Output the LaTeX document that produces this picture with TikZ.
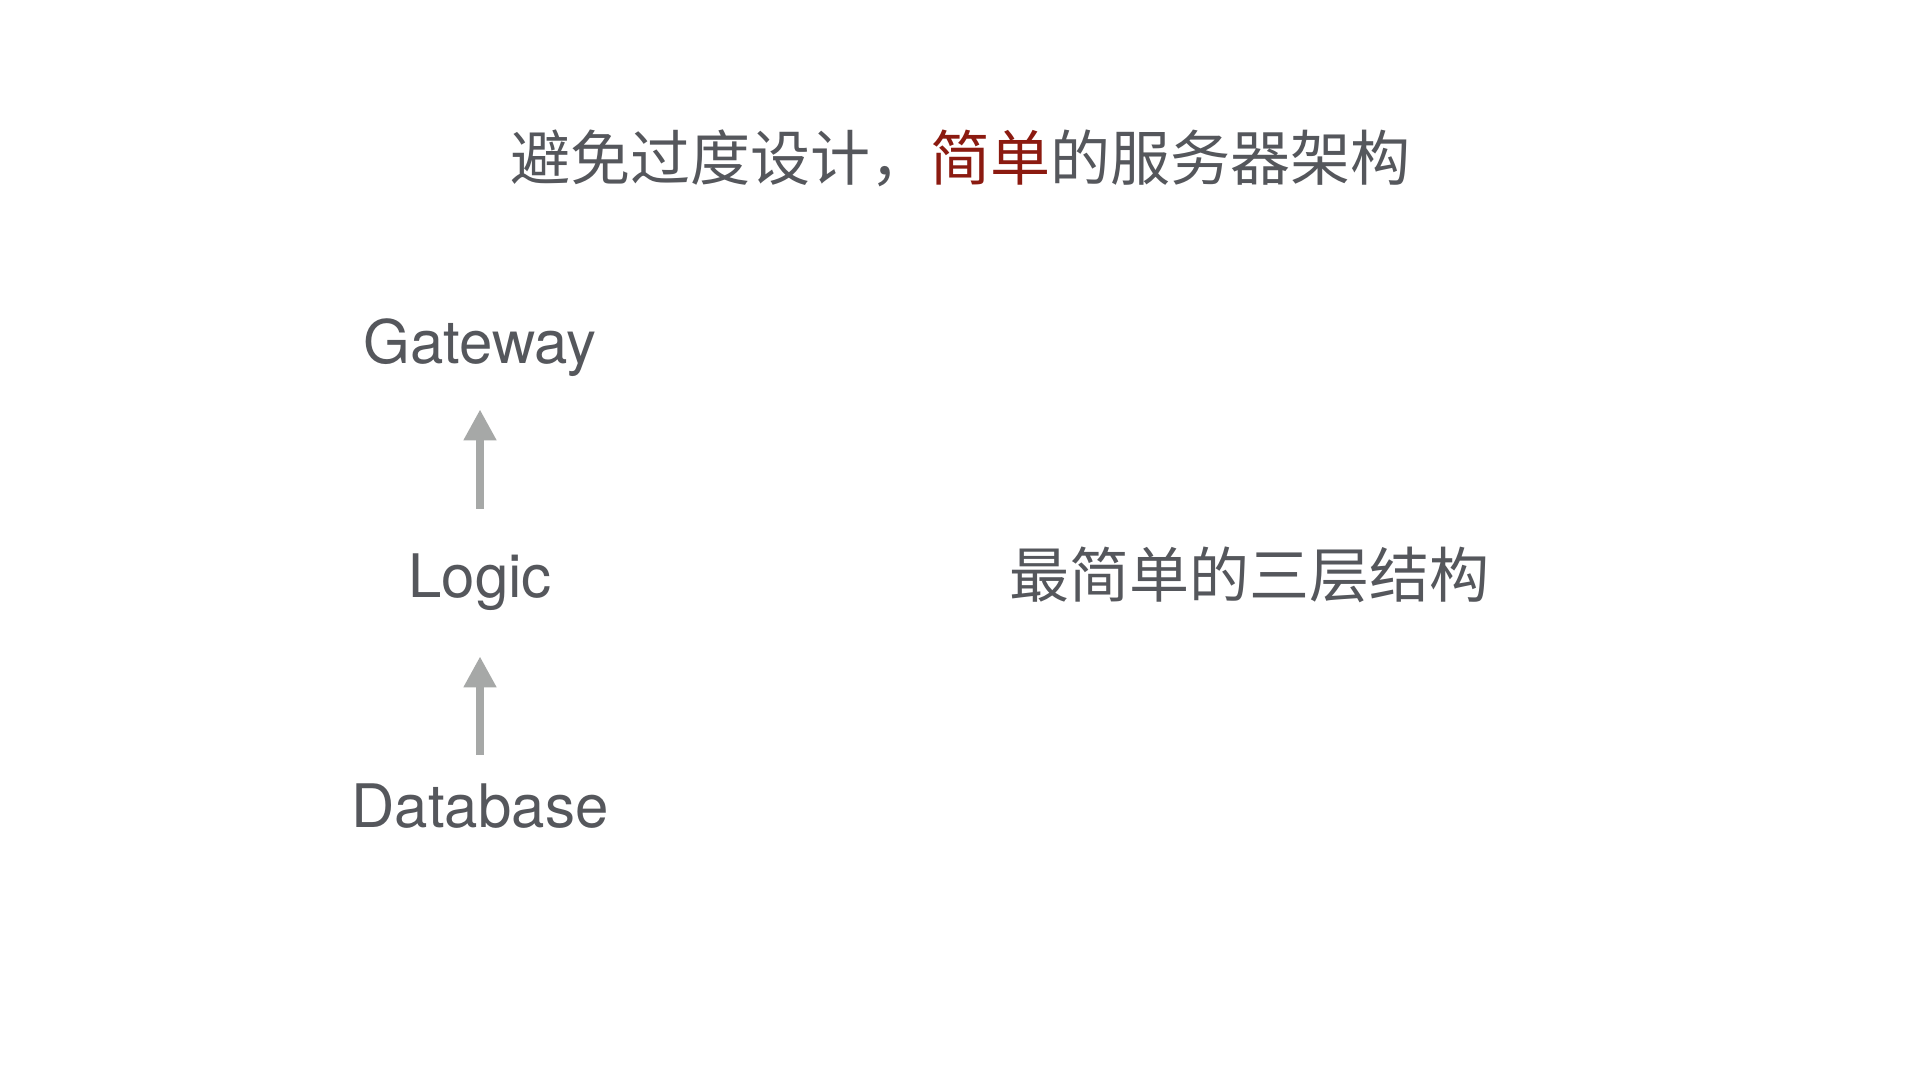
\documentclass[tikz,border=0pt]{standalone}
\usepackage{fontspec}
\usepackage{xcolor}
\usepackage{tikz}
\usetikzlibrary{arrows.meta}
\setmainfont{TeX Gyre Heros}
\newfontfamily\cjk{Noto Sans CJK SC}

\definecolor{textgray}{HTML}{55575C}
\definecolor{arrowgray}{HTML}{A6A8A7}
\definecolor{titlered}{HTML}{8B1A10}

\begin{document}
\begin{tikzpicture}[x=0.5pt,y=-0.5pt,
        layer/.style={inner sep=0pt, anchor=base, text=textgray,
            font=\fontsize{30pt}{36pt}\selectfont,
            text height=21.5pt, text depth=6.5pt},
        cjktext/.style={inner sep=0pt, anchor=base, text=textgray,
            font=\cjk\fontsize{30pt}{36pt}\selectfont},
        uparrow/.style={draw=arrowgray, line width=4pt,
            -{Triangle[width=15.5pt,length=15.5pt]}}]
        \useasboundingbox[fill=white] (0,0) rectangle (1920,1080);

        \node[cjktext] (title) at (960,181) {避免过度设计，\textcolor{titlered}{简单}的服务器架构};

        \node[layer] (gateway) at (480,364) {Gateway};
        \node[layer] (logic) at (480,597) {Logic};
        \node[layer] (database) at (480,827) {Database};

        \node[cjktext] (note) at (1249,597) {最简单的三层结构};

        \draw[uparrow, shorten <=22.5pt, shorten >=16pt] (logic) -- (gateway);
        \draw[uparrow, shorten <=14.5pt, shorten >=23pt] (database) -- (logic);
    \end{tikzpicture}
\end{document}
